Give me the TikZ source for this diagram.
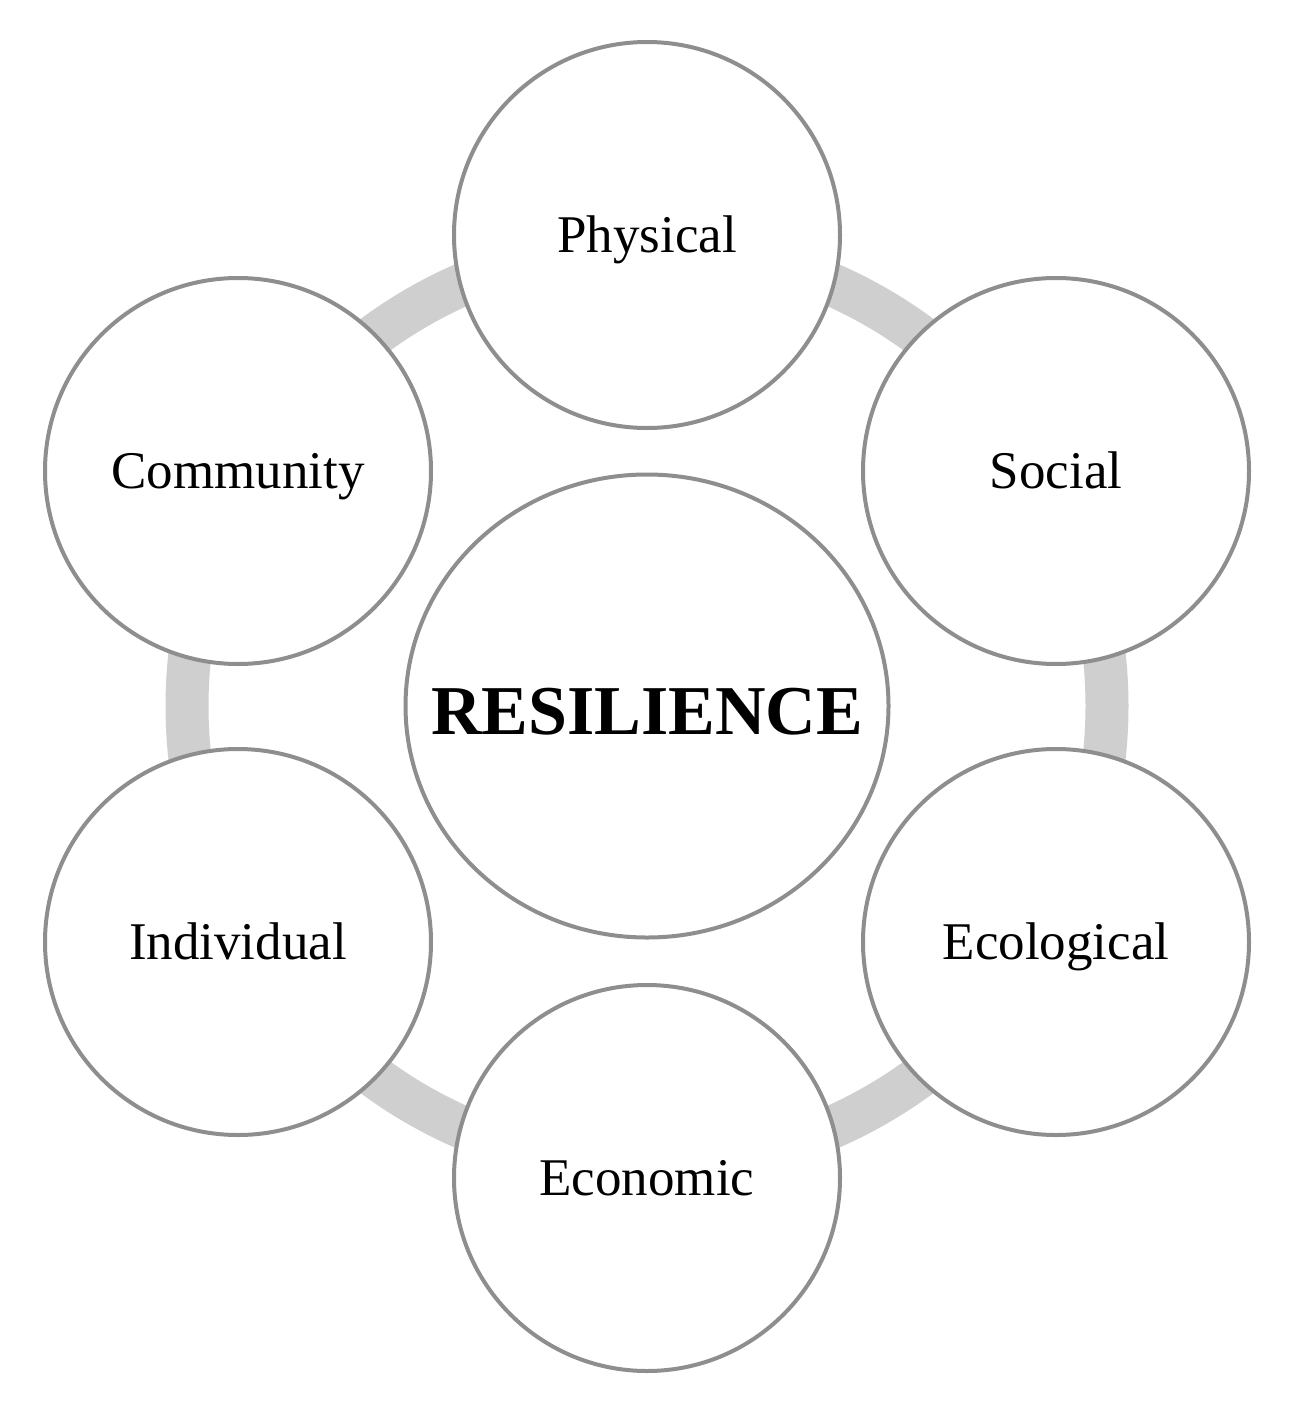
\documentclass[tikz,border=0pt]{standalone}
\usepackage{fontspec}
\setmainfont{Liberation Serif}
\usetikzlibrary{shapes.geometric}
\begin{document}
\begin{tikzpicture}[x=1pt,y=-1pt,
  outer/.style={circle,draw=circgray,line width=4pt,fill=white,minimum size=386pt,inner sep=0pt},
  lbl/.style={anchor=base,font=\fontsize{53}{60}\selectfont},
  ringst/.style={draw=ringgray,line width=43pt}]
\definecolor{circgray}{HTML}{8E8E8E}
\definecolor{ringgray}{HTML}{CFCFCF}
\useasboundingbox[fill=white] (0,0) rectangle (1295,1421);
\coordinate (c) at (647,706);
\draw[ringst] (c) circle[radius=460];
\node[outer] (phy) at (647,235) {};
\node[outer] (soc) at (1056,471) {};
\node[outer] (eco) at (1056,942) {};
\node[outer] (econ) at (647,1178) {};
\node[outer] (ind) at (238,942) {};
\node[outer] (com) at (238,471) {};
\node[ellipse,draw=circgray,line width=4pt,fill=white,minimum width=483pt,minimum height=463pt,inner sep=0pt] (res) at (c) {};
\node[lbl] at ([yshift=-17.5pt]phy.center) {Physical};
\node[lbl] at ([yshift=-17.5pt]soc.center) {Social};
\node[lbl] at ([yshift=-17.5pt]eco.center) {Ecological};
\node[lbl] at ([yshift=-17.5pt]econ.center) {Economic};
\node[lbl] at ([yshift=-17.5pt]ind.center) {Individual};
\node[lbl] at ([yshift=-17.5pt]com.center) {Community};
\node[anchor=base,font=\fontsize{70}{80}\selectfont\bfseries] at ([yshift=-28pt]res.center) {RESILIENCE};
\end{tikzpicture}
\end{document}
